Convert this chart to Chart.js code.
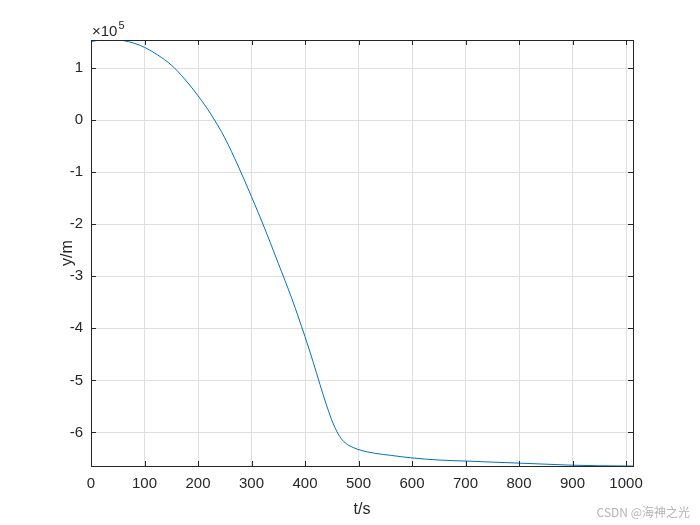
<!DOCTYPE html>
<html>
<head>
<meta charset="utf-8">
<script src="https://cdn.jsdelivr.net/npm/chart.js@4"></script>
<style>
  html, body { margin: 0; padding: 0; background: #fff; }
  #wrap { width: 700px; height: 525px; }
</style>
</head>
<body>
<div id="wrap"><canvas id="heightChart" width="700" height="525"></canvas></div>
<script>
// values
const timeS = [0, 15, 30, 45, 60, 80, 100, 125, 150, 175, 200, 225, 250, 275, 300,
  325, 350, 375, 400, 415, 428, 440, 453, 465, 475, 490, 505, 530, 560, 600, 650,
  700, 750, 800, 850, 900, 950, 1000, 1013];
const heightM = [1.51e5, 1.535e5, 1.54e5, 1.54e5, 1.53e5, 1.48e5, 1.40e5, 1.25e5, 1.06e5, 0.79e5,
  0.47e5, 0.10e5, -0.34e5, -0.88e5, -1.47e5, -2.09e5, -2.75e5, -3.42e5, -4.16e5, -4.64e5,
  -5.08e5, -5.47e5, -5.84e5, -6.08e5, -6.20e5, -6.29e5, -6.345e5, -6.40e5, -6.44e5, -6.49e5, -6.53e5,
  -6.55e5, -6.57e5, -6.59e5, -6.61e5, -6.63e5, -6.64e5, -6.645e5, -6.645e5];

const xTicks = [0, 100, 200, 300, 400, 500, 600, 700, 800, 900, 1000];
const yTicks = [-6e5, -5e5, -4e5, -3e5, -2e5, -1e5, 0, 1e5];

const axisColor = "#262626";
const tickFont = { family: "'Liberation Sans', Arial, sans-serif", size: 15 };

// box round the plot, inward tick marks, exponent label and watermark
const matlabBox = {
  id: "matlabBox",
  afterDraw(chart) {
    const { ctx, chartArea: a, scales } = chart;
    ctx.save();
    ctx.strokeStyle = axisColor;
    ctx.lineWidth = 1;
    ctx.beginPath();
    xTicks.forEach(v => {
      const px = Math.round(scales.x.getPixelForValue(v)) + 0.5;
      ctx.moveTo(px, a.bottom); ctx.lineTo(px, a.bottom - 5);
      ctx.moveTo(px, a.top); ctx.lineTo(px, a.top + 5);
    });
    yTicks.forEach(v => {
      const py = Math.round(scales.y.getPixelForValue(v)) + 0.5;
      ctx.moveTo(a.left, py); ctx.lineTo(a.left + 5, py);
      ctx.moveTo(a.right, py); ctx.lineTo(a.right - 5, py);
    });
    ctx.stroke();
    ctx.strokeRect(Math.round(a.left) + 0.5, Math.round(a.top) + 0.5,
      Math.round(a.right - a.left), Math.round(a.bottom - a.top));

    ctx.fillStyle = axisColor;
    ctx.textBaseline = "alphabetic";
    ctx.textAlign = "left";
    ctx.font = "15px 'Liberation Sans', Arial, sans-serif";
    ctx.fillText("\u00d710", a.left + 1, a.top - 4);
    const w = ctx.measureText("\u00d710").width;
    ctx.font = "11px 'Liberation Sans', Arial, sans-serif";
    ctx.fillText("5", a.left + 2 + w, a.top - 11);

    ctx.fillStyle = "#b4b4b4";
    ctx.textAlign = "right";
    ctx.font = "12px 'Noto Sans CJK SC', sans-serif";
    ctx.fillText("CSDN @海神之光", 690, 517);
    ctx.restore();
  }
};

new Chart(document.getElementById("heightChart"), {
  type: "line",
  data: {
    datasets: [{
      data: timeS.map((t, i) => ({ x: t, y: heightM[i] })),
      borderColor: "#0072BD",
      borderWidth: 1,
      pointRadius: 0,
      cubicInterpolationMode: "monotone",
      fill: false
    }]
  },
  options: {
    responsive: false,
    animation: false,
    layout: { padding: { top: 40, right: 67, bottom: 0, left: 0 } },
    plugins: {
      legend: { display: false },
      tooltip: { enabled: false }
    },
    scales: {
      x: {
        type: "linear",
        min: 0,
        max: 1013,
        afterBuildTicks: s => { s.ticks = xTicks.map(v => ({ value: v })); },
        afterFit: s => { s.height = 59; },
        grid: { color: "#dfdfdf", drawTicks: false },
        border: { display: false },
        ticks: {
          color: axisColor,
          font: tickFont,
          padding: 9,
          maxRotation: 0,
          callback: v => String(v)
        },
        title: {
          display: true,
          text: "t/s",
          color: axisColor,
          font: { family: "'Liberation Sans', Arial, sans-serif", size: 16 },
          padding: { top: 0, bottom: 6 }
        }
      },
      y: {
        type: "linear",
        min: -6.645e5,
        max: 1.54e5,
        afterBuildTicks: s => { s.ticks = yTicks.map(v => ({ value: v })); },
        afterFit: s => { s.width = 91; },
        grid: { color: "#dfdfdf", drawTicks: false },
        border: { display: false },
        ticks: {
          color: axisColor,
          font: tickFont,
          padding: 8,
          callback: v => String(Math.round(v / 1e5))
        },
        title: {
          display: true,
          text: "y/m",
          color: axisColor,
          font: { family: "'Liberation Sans', Arial, sans-serif", size: 16 },
          padding: { top: 58, bottom: 0 }
        }
      }
    }
  },
  plugins: [matlabBox]
});
</script>
</body>
</html>
